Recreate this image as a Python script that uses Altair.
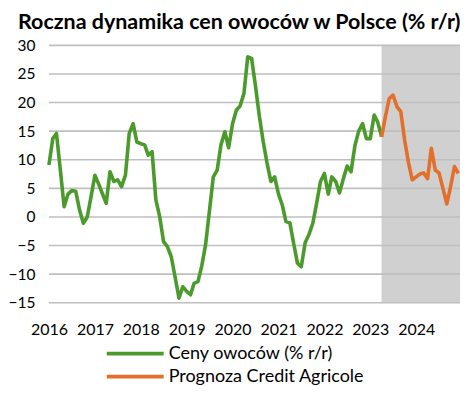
import altair as alt
import pandas as pd

# Monthly data Jan 2016 - Dec 2024
actual_values = [
    9.1, 13.7, 14.6, 8.2, 1.8, 4.0, 4.6, 4.5, 1.2, -1.1, 0.0, 3.5,      # 2016
    7.3, 5.7, 4.1, 2.4, 7.9, 6.2, 6.5, 5.3, 7.3, 14.6, 16.3, 13.1,      # 2017
    12.8, 12.6, 10.8, 11.4, 3.0, 0.0, -4.3, -5.2, -7.0, -10.5, -14.2, -12.2,  # 2018
    -13.0, -13.6, -11.6, -11.3, -8.6, -4.8, 1.0, 7.0, 8.2, 12.6, 14.9, 12.1,  # 2019
    16.3, 18.7, 19.4, 21.6, 28.0, 27.7, 23.0, 17.7, 13.2, 9.5, 6.2, 7.0,  # 2020
    4.0, 2.0, -0.8, -1.0, -4.6, -8.1, -8.7, -4.5, -3.0, -1.1, 2.5, 6.2,  # 2021
    7.6, 4.0, 7.0, 6.2, 4.2, 6.7, 8.9, 7.9, 12.5, 15.0, 16.3, 13.7,     # 2022
    13.7, 17.8, 16.6, 14.0,                                             # 2023 Jan-Apr
]
forecast_values = [
    14.0, 17.5, 20.7, 21.3, 19.3, 18.4, 13.5, 9.5, 6.5,                 # 2023 Apr-Dec
    7.0, 7.5, 7.7, 6.7, 12.0, 8.2, 7.7, 5.0, 2.3, 5.3, 8.8, 7.6,        # 2024
]
series_names = ["Ceny owoców (% r/r)", "Prognoza Credit Agricole"]
series_colors = ["#4a9a2c", "#e36f2a"]
y_ticks = [-15, -10, -5, 0, 5, 10, 15, 20, 25, 30]
band_start = ["2023-04-01"]
band_end = ["2024-12-15"]
x_domain = ["2016-01-01", "2024-12-15"]
title_text = "Roczna dynamika cen owoców w Polsce (% r/r)"

actual_dates = pd.date_range("2016-01-01", periods=len(actual_values), freq="MS")
forecast_dates = pd.date_range("2023-04-01", periods=len(forecast_values), freq="MS")

df = pd.concat([
    pd.DataFrame({"date": actual_dates, "value": actual_values, "series": series_names[0]}),
    pd.DataFrame({"date": forecast_dates, "value": forecast_values, "series": series_names[1]}),
])
df["date"] = df["date"].dt.strftime("%Y-%m-%d")

band_df = pd.DataFrame({"start": band_start, "end": band_end, "lo": [min(y_ticks)], "hi": [max(y_ticks)]})
grid_df = pd.DataFrame({"v": y_ticks})

FONT = "Lato"

x_scale = alt.Scale(domain=x_domain)
y_scale = alt.Scale(domain=[min(y_ticks), max(y_ticks)], nice=False)

x_axis = alt.Axis(title=None, format="%Y", tickCount={"interval": "year", "step": 1},
                  labelFontSize=16, labelFont=FONT, labelColor="#000000",
                  labelPadding=19, ticks=False, domain=False, grid=False,
                  labelOverlap=False, labelFlush=False)
y_axis = alt.Axis(title=None, values=y_ticks, labelFontSize=15.5, labelFont=FONT,
                  labelColor="#000000", labelPadding=14, ticks=False,
                  domain=False, grid=False, labelOverlap=False, labelFlush=False)

band = alt.Chart(band_df).mark_rect(color="#d0d0d0").encode(
    x=alt.X("start:T", scale=x_scale, axis=x_axis),
    x2="end:T",
    y=alt.Y("lo:Q", scale=y_scale, axis=y_axis),
    y2="hi:Q",
)

grid = alt.Chart(grid_df).mark_rule(color="#bfbfbf", strokeWidth=1.6).encode(
    y=alt.Y("v:Q", scale=y_scale, axis=y_axis)
)

lines = alt.Chart(df).mark_line(strokeWidth=3.6, strokeJoin="round").encode(
    x=alt.X("date:T", scale=x_scale, axis=x_axis),
    y=alt.Y("value:Q", scale=y_scale, axis=y_axis),
    color=alt.Color("series:N",
                    scale=alt.Scale(domain=series_names, range=series_colors),
                    legend=alt.Legend(title=None, orient="none", legendX=56, legendY=300,
                                      symbolType="stroke", symbolSize=3249,
                                      symbolStrokeWidth=3.6, clipHeight=18,
                                      labelFontSize=18, labelFont=FONT, labelColor="#000000",
                                      labelOffset=3, rowPadding=5, labelLimit=0, padding=0)),
    detail="series:N",
)

chart = alt.layer(band, grid, lines).properties(
    width=412,
    height=258,
    padding={"left": 0, "top": 3, "right": 0, "bottom": 0},
    title=alt.TitleParams(title_text, anchor="start", frame="bounds", font=FONT,
                          fontSize=21.5, fontWeight="bold", color="#000000", offset=5, dx=10),
).configure_view(stroke=None)

chart.save("out.html", embed_options={"renderer": "svg", "actions": False})
